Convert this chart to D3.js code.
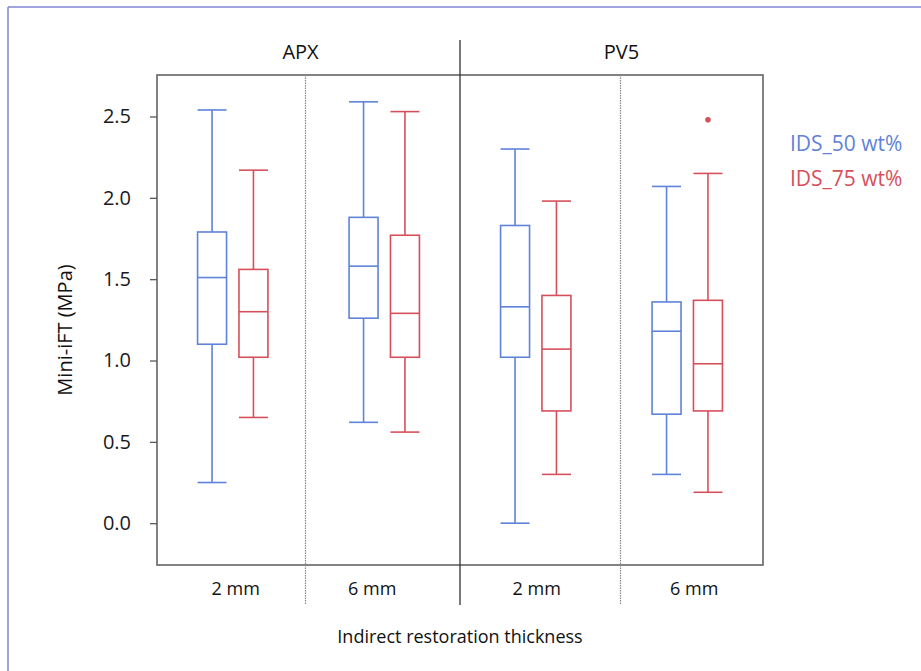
<!DOCTYPE html>
<html><head><meta charset="utf-8">
<script src="https://cdn.jsdelivr.net/npm/d3@7"></script>
<style>body{margin:0;background:#fff;} svg{display:block;font-family:"Open Sans","Noto Sans",sans-serif;}</style>
</head><body>
<svg id="c" width="921" height="671"></svg>
<script>
const facets = ["APX", "PV5"];
const thickness = ["2 mm", "6 mm"];
const seriesNames = ["IDS_50 wt%", "IDS_75 wt%"];
const seriesColors = ["#5f83d8", "#d6505c"];
const yTicks = [0.0, 0.5, 1.0, 1.5, 2.0, 2.5];
// [lowerWhisker, Q1, median, Q3, upperWhisker] per facet/thickness, per series
const ids50 = [
  [0.25, 1.10, 1.51, 1.79, 2.54],  // APX 2 mm
  [0.62, 1.26, 1.58, 1.88, 2.59],  // APX 6 mm
  [0.00, 1.02, 1.33, 1.83, 2.30],  // PV5 2 mm
  [0.30, 0.67, 1.18, 1.36, 2.07]   // PV5 6 mm
];
const ids75 = [
  [0.65, 1.02, 1.30, 1.56, 2.17],
  [0.56, 1.02, 1.29, 1.77, 2.53],
  [0.30, 0.69, 1.07, 1.40, 1.98],
  [0.19, 0.69, 0.98, 1.37, 2.15]
];
const outliers75 = [[], [], [], [2.48]];

const svg = d3.select("#c");
const FF = "'Open Sans','Noto Sans',sans-serif";
// outer frame
svg.append("line").attr("x1",8).attr("x2",921).attr("y1",7).attr("y2",7).attr("stroke","#8185d2").attr("stroke-width",1.5);
svg.append("line").attr("x1",8).attr("x2",8).attr("y1",7).attr("y2",671).attr("stroke","#8185d2").attr("stroke-width",1.5);

const L = 157, R = 763, T = 75, B = 565;
const groups = [];
facets.forEach(f => thickness.forEach(t => groups.push(f + "|" + t)));
const x = d3.scaleBand().domain(groups).range([L, R]);
const xs = d3.scaleBand().domain(seriesNames).range([0, x.bandwidth()]).paddingInner(0.3).paddingOuter(0.98);
const y = d3.scaleLinear().domain([-0.257, 2.755]).range([B, T]);

const frame = "#5a5a5a";
// y axis
const yAxis = d3.axisLeft(y).tickValues(yTicks).tickFormat(d3.format(".1f")).tickSize(7).tickPadding(19);
const ga = svg.append("g").attr("transform", `translate(${L},0)`).call(yAxis);
ga.select(".domain").remove();
ga.selectAll(".tick line").attr("stroke", frame).attr("stroke-width", 1.3);
ga.selectAll(".tick text").attr("font-size", 20).attr("fill", "#1a1a1a").attr("font-family", FF);

// plot box
svg.append("rect").attr("x", L).attr("y", T).attr("width", R - L).attr("height", B - T)
  .attr("fill", "none").attr("stroke", frame).attr("stroke-width", 1.5);

// sub dividers (dotted)
[x(groups[1]) - 3, x(groups[3]) + 9].forEach(xx => {
  svg.append("line").attr("x1", xx).attr("x2", xx).attr("y1", T).attr("y2", 605)
    .attr("stroke", "#888").attr("stroke-width", 1.2).attr("stroke-dasharray", "1.5,1");
});
// facet divider
svg.append("line").attr("x1", x(groups[2])).attr("x2", x(groups[2])).attr("y1", 40).attr("y2", 605)
  .attr("stroke", "#333").attr("stroke-width", 1.3);

// facet labels
const facetNudge = [-8, 10];
facets.forEach((f, i) => {
  const cx = (x(groups[i*2]) + x(groups[i*2+1]) + x.bandwidth()) / 2 + facetNudge[i];
  svg.append("text").attr("x", cx).attr("y", 59).attr("text-anchor", "middle")
    .attr("font-size", 20).attr("fill", "#111").text(f);
});
// thickness labels
const thickNudge = [3, -12, 1, 7];
groups.forEach((g, i) => {
  svg.append("text").attr("x", x(g) + x.bandwidth()/2 + thickNudge[i]).attr("y", 595).attr("text-anchor", "middle")
    .attr("font-size", 18).attr("fill", "#111").text(g.split("|")[1]);
});
// axis titles
svg.append("text").attr("x", 460).attr("y", 643).attr("text-anchor", "middle")
  .attr("font-size", 18).attr("fill", "#111").text("Indirect restoration thickness");
svg.append("text").attr("transform", "translate(72,330) rotate(-90)").attr("text-anchor", "middle")
  .attr("font-size", 20).attr("fill", "#111").text("Mini-iFT (MPa)");

// boxes
const allSeries = [ids50, ids75];
allSeries.forEach((ser, si) => {
  const col = seriesColors[si];
  ser.forEach((s, gi) => {
    const g = svg.append("g").attr("stroke", col).attr("fill", "none").attr("stroke-width", 1.6);
    const x0 = x(groups[gi]) + xs(seriesNames[si]);
    const w = xs.bandwidth();
    const cx = x0 + w/2;
    const [lo, q1, md, q3, hi] = s;
    g.append("line").attr("x1", cx).attr("x2", cx).attr("y1", y(hi)).attr("y2", y(q3));
    g.append("line").attr("x1", cx).attr("x2", cx).attr("y1", y(q1)).attr("y2", y(lo));
    g.append("line").attr("x1", x0).attr("x2", x0 + w).attr("y1", y(hi)).attr("y2", y(hi));
    g.append("line").attr("x1", x0).attr("x2", x0 + w).attr("y1", y(lo)).attr("y2", y(lo));
    g.append("rect").attr("x", x0).attr("y", y(q3)).attr("width", w).attr("height", y(q1) - y(q3));
    g.append("line").attr("x1", x0).attr("x2", x0 + w).attr("y1", y(md)).attr("y2", y(md));
  });
});
outliers75.forEach((os, gi) => {
  const cx = x(groups[gi]) + xs(seriesNames[1]) + xs.bandwidth()/2;
  os.forEach(v => svg.append("circle").attr("cx", cx).attr("cy", y(v)).attr("r", 2.8).attr("fill", seriesColors[1]));
});

// legend
seriesNames.forEach((n, i) => {
  svg.append("text").attr("x", 790).attr("y", 151 + i * 35).attr("font-size", 21)
    .attr("fill", seriesColors[i]).text(n);
});
</script>
</body></html>
